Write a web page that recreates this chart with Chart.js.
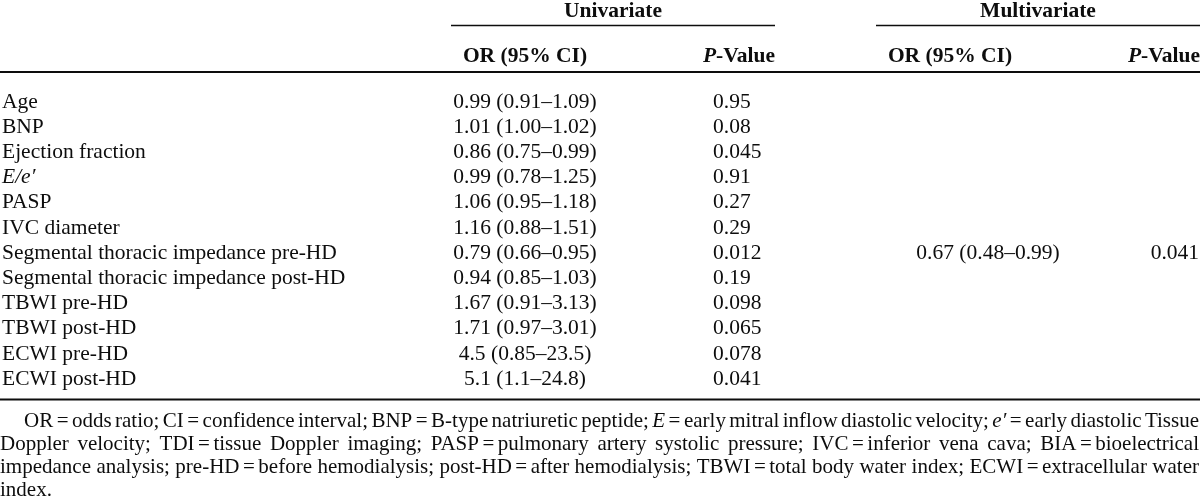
<!DOCTYPE html>
<html>
<head>
<meta charset="utf-8">
<script src="https://cdn.jsdelivr.net/npm/chart.js@4.4.0/dist/chart.umd.min.js"></script>
<style>
    html, body { margin: 0; padding: 0; background: #fff; }
    #wrap { width: 1200px; height: 499px; position: relative; }
</style>
</head>
<body>
<div id="wrap"><canvas id="tableChart"></canvas></div>
<script>
// table content (text between * is italic)
const rowLabels = [
    'Age', 'BNP', 'Ejection fraction', '*E/e′*', 'PASP', 'IVC diameter',
    'Segmental thoracic impedance pre-HD', 'Segmental thoracic impedance post-HD',
    'TBWI pre-HD', 'TBWI post-HD', 'ECWI pre-HD', 'ECWI post-HD'
];
const uniOR = [
    '0.99 (0.91–1.09)', '1.01 (1.00–1.02)', '0.86 (0.75–0.99)', '0.99 (0.78–1.25)',
    '1.06 (0.95–1.18)', '1.16 (0.88–1.51)', '0.79 (0.66–0.95)', '0.94 (0.85–1.03)',
    '1.67 (0.91–3.13)', '1.71 (0.97–3.01)', '4.5 (0.85–23.5)', '5.1 (1.1–24.8)'
];
const uniP = ['0.95', '0.08', '0.045', '0.91', '0.27', '0.29', '0.012', '0.19', '0.098', '0.065', '0.078', '0.041'];
const multiOR = [null, null, null, null, null, null, '0.67 (0.48–0.99)', null, null, null, null, null];
const multiP = [null, null, null, null, null, null, '0.041', null, null, null, null, null];
const groupHeaders = ['Univariate', 'Multivariate'];
const columnHeaders = ['OR (95% CI)', '*P*-Value', 'OR (95% CI)', '*P*-Value'];
const footnote = [
    'OR\u2006=\u2006odds ratio; CI\u2006=\u2006confidence interval; BNP\u2006=\u2006B-type natriuretic peptide; *E*\u2006=\u2006early mitral inflow diastolic velocity; *e′*\u2006=\u2006early diastolic Tissue',
    'Doppler velocity; TDI\u2006=\u2006tissue Doppler imaging; PASP\u2006=\u2006pulmonary artery systolic pressure; IVC\u2006=\u2006inferior vena cava; BIA\u2006=\u2006bioelectrical',
    'impedance analysis; pre-HD\u2006=\u2006before hemodialysis; post-HD\u2006=\u2006after hemodialysis; TBWI\u2006=\u2006total body water index; ECWI\u2006=\u2006extracellular water',
    'index.'
];

// layout
const FONT = '"Liberation Serif", "Times New Roman", serif';
const SIZE = 21.5;
const NOTE_SIZE = 21;
const INK = '#0d0d0d';
const columns = [
    { texts: rowLabels, x: 2, align: 'left' },
    { texts: uniOR, x: 525, align: 'center' },
    { texts: uniP, x: 713, align: 'left' },
    { texts: multiOR, x: 988, align: 'center' },
    { texts: multiP, x: 1199, align: 'right' }
];

function runs(text) {
    return text.split('*').map((t, i) => ({ t: t, italic: i % 2 === 1 })).filter(r => r.t.length);
}

function fontFor(italic, bold, size) {
    return (italic ? 'italic ' : '') + (bold ? 'bold ' : '') + (size || SIZE) + 'px ' + FONT;
}

function richWidth(ctx, text, bold, size) {
    let w = 0;
    runs(text).forEach(r => { ctx.font = fontFor(r.italic, bold, size); w += ctx.measureText(r.t).width; });
    return w;
}

function drawRich(ctx, text, x, y, align, bold, size) {
    const w = richWidth(ctx, text, bold, size);
    let cx = align === 'center' ? x - w / 2 : align === 'right' ? x - w : x;
    ctx.textAlign = 'left';
    ctx.textBaseline = 'alphabetic';
    runs(text).forEach(r => {
        ctx.font = fontFor(r.italic, bold, size);
        ctx.fillText(r.t, cx, y);
        cx += ctx.measureText(r.t).width;
    });
}

function hLine(ctx, x1, x2, y, width) {
    ctx.beginPath();
    ctx.lineWidth = width;
    ctx.moveTo(x1, y);
    ctx.lineTo(x2, y);
    ctx.stroke();
}

const tablePlugin = {
    id: 'tableText',
    afterDatasetsDraw(chart) {
        const ctx = chart.ctx;
        const xs = chart.scales.x;
        ctx.save();
        ctx.fillStyle = INK;
        ctx.strokeStyle = INK;

        // body cells, placed at the dataset points
        chart.data.datasets.forEach((ds, di) => {
            chart.getDatasetMeta(di).data.forEach((pt, i) => {
                const t = ds.texts[i];
                if (!t) return;
                drawRich(ctx, t, pt.x, pt.y + 6.5, ds.textAlign, false);
            });
        });

        // group headers with their rules
        drawRich(ctx, groupHeaders[0], xs.getPixelForValue(613), 17, 'center', true);
        drawRich(ctx, groupHeaders[1], xs.getPixelForValue(1038), 17, 'center', true);
        hLine(ctx, xs.getPixelForValue(451), xs.getPixelForValue(775), 25.5, 1.5);
        hLine(ctx, xs.getPixelForValue(876), xs.getPixelForValue(1200), 25.5, 1.5);

        // column headers
        drawRich(ctx, columnHeaders[0], xs.getPixelForValue(525), 62, 'center', true);
        drawRich(ctx, columnHeaders[1], xs.getPixelForValue(775), 62, 'right', true);
        drawRich(ctx, columnHeaders[2], xs.getPixelForValue(950), 62, 'center', true);
        drawRich(ctx, columnHeaders[3], xs.getPixelForValue(1200), 62, 'right', true);

        hLine(ctx, 0, 1200, 72, 2);
        hLine(ctx, 0, 1200, 399.5, 2);

        // justified footnote
        footnote.forEach((line, li) => {
            const y = 427 + li * 23;
            const left = li === 0 ? 24 : 0;
            if (li === footnote.length - 1) {
                drawRich(ctx, line, left, y, 'left', false, NOTE_SIZE);
                return;
            }
            const words = line.split(' ');
            const widths = words.map(w => richWidth(ctx, w, false, NOTE_SIZE));
            const total = widths.reduce((a, b) => a + b, 0);
            const gap = Math.max(3, (1199 - left - total) / (words.length - 1));
            let x = left;
            words.forEach((w, wi) => {
                drawRich(ctx, w, x, y, 'left', false, NOTE_SIZE);
                x += widths[wi] + gap;
            });
        });
        ctx.restore();
    }
};

const ctx = document.getElementById('tableChart').getContext('2d');
window.tableChart = new Chart(ctx, {
    type: 'scatter',
    data: {
        labels: rowLabels,
        datasets: columns.map(col => ({
            data: col.texts.map((t, i) => ({ x: col.x, y: i })),
            texts: col.texts,
            textAlign: col.align,
            pointRadius: 0,
            pointHoverRadius: 0
        }))
    },
    options: {
        responsive: true,
        maintainAspectRatio: false,
        animation: false,
        events: [],
        layout: { padding: { left: 0, right: 0, top: 88.4, bottom: 108.2 } },
        plugins: { legend: { display: false }, tooltip: { enabled: false } },
        scales: {
            x: { type: 'linear', min: 0, max: 1200, display: false },
            y: { type: 'category', labels: rowLabels, offset: true, display: false }
        }
    },
    plugins: [tablePlugin]
});
</script>
</body>
</html>
